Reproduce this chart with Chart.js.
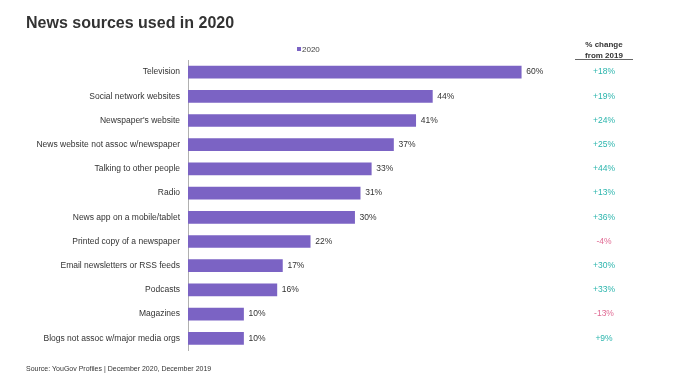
<!DOCTYPE html>
<html><head><meta charset="utf-8">
<script src="https://cdn.jsdelivr.net/npm/chart.js@4"></script>
<style>html,body{margin:0;padding:0;background:#fff}#c{display:block}</style>
</head><body>
<div style="width:680px;height:383px;position:relative"><canvas id="c" width="680" height="383"></canvas></div>
<script>
const categories = ["Television","Social network websites","Newspaper's website","News website not assoc w/newspaper","Talking to other people","Radio","News app on a mobile/tablet","Printed copy of a newspaper","Email newsletters or RSS feeds","Podcasts","Magazines","Blogs not assoc w/major media orgs"];
const values2020 = [60,44,41,37,33,31,30,22,17,16,10,10];
const changes = ["+18%","+19%","+24%","+25%","+44%","+13%","+36%","-4%","+30%","+33%","-13%","+9%"];
const titleText = "News sources used in 2020";
const sourceText = "Source: YouGov Profiles | December 2020, December 2019";
const seriesName = "2020";
const changeHeader = ["% change","from 2019"];

const FONT = "Liberation Sans, Arial, sans-serif";
const extras = {
  id: 'extras',
  afterDraw(chart) {
    const ctx = chart.ctx;
    ctx.save();
    // title
    ctx.fillStyle = '#333';
    ctx.font = 'bold 16px ' + FONT;
    ctx.textBaseline = 'alphabetic';
    ctx.textAlign = 'left';
    ctx.fillText(titleText, 26, 28);
    // legend
    ctx.fillStyle = '#7b63c4';
    ctx.fillRect(297, 47, 4, 4);
    ctx.fillStyle = '#444';
    ctx.font = '8px ' + FONT;
    ctx.textBaseline = 'middle';
    ctx.fillText(seriesName, 302, 49.5);
    // header
    ctx.font = 'bold 8px ' + FONT;
    ctx.textAlign = 'center';
    ctx.fillStyle = '#333';
    ctx.fillText(changeHeader[0], 604, 45);
    ctx.fillText(changeHeader[1], 604, 55.5);
    ctx.strokeStyle = '#666';
    ctx.lineWidth = 1;
    ctx.beginPath(); ctx.moveTo(575, 59.5); ctx.lineTo(633, 59.5); ctx.stroke();
    // data labels & changes
    const meta = chart.getDatasetMeta(0);
    meta.data.forEach((bar, i) => {
      ctx.font = '8.5px ' + FONT;
      ctx.textAlign = 'left';
      ctx.fillStyle = '#333';
      ctx.fillText(values2020[i] + '%', bar.x + 5, bar.y);
      ctx.textAlign = 'center';
      ctx.fillStyle = changes[i].startsWith('-') ? '#e06a93' : '#2bb5ad';
      ctx.fillText(changes[i], 604, bar.y);
    });
    // source
    ctx.textAlign = 'left';
    ctx.fillStyle = '#333';
    ctx.font = '7px ' + FONT;
    ctx.fillText(sourceText, 26, 369);
    ctx.restore();
  }
};

new Chart(document.getElementById('c'), {
  type: 'bar',
  data: {
    labels: categories,
    datasets: [{ label: seriesName, data: values2020, backgroundColor: '#7b63c4', barThickness: 12 }]
  },
  options: {
    indexAxis: 'y',
    responsive: false,
    animation: false,
    layout: { padding: { left: 0, right: 131, top: 60, bottom: 32.6 } },
    plugins: { legend: { display: false }, tooltip: { enabled: false } },
    scales: {
      x: { display: false, min: 0, max: 65 },
      y: {
        afterFit(s) { s.width = 188; },
        grid: { display: false, drawTicks: false },
        border: { display: true, color: '#b0b0b0' },
        ticks: { color: '#333', font: { size: 8.5, family: FONT }, padding: 8 }
      }
    }
  },
  plugins: [extras]
});
</script>
</body></html>
